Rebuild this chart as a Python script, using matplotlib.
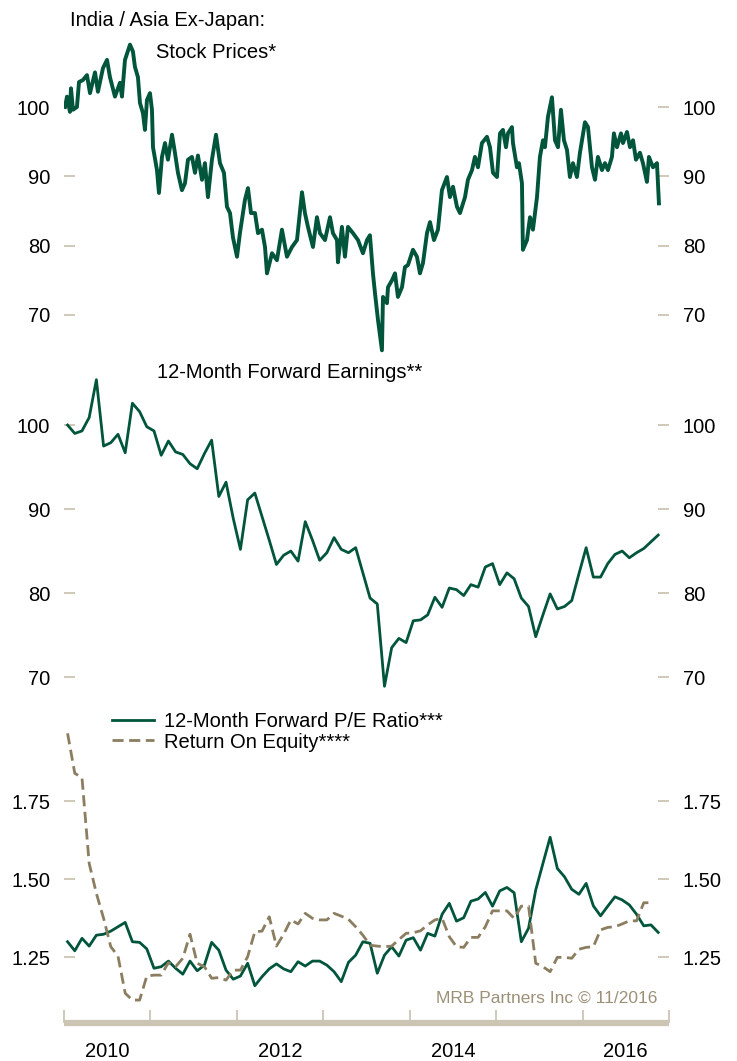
import numpy as np
import matplotlib
matplotlib.use('Agg')
import matplotlib.pyplot as plt

plt.rcParams['font.family'] = ['Liberation Sans', 'DejaVu Sans']

GREEN = '#00553a'
TAN = '#cdc5b3'
ROE_COL = '#8b7d60'
NOTE_COL = '#9c9177'

# Stock prices (indexed, Jan 2010 = 100)
stock_dates = [
    2010.012, 2010.035, 2010.069, 2010.081, 2010.104, 2010.150, 2010.174, 2010.220, 2010.266, 2010.301,
    2010.359, 2010.393, 2010.451, 2010.498, 2010.532, 2010.590, 2010.648, 2010.671, 2010.706, 2010.764,
    2010.798, 2010.821, 2010.856, 2010.879, 2010.914, 2010.937, 2010.960, 2010.995, 2011.018, 2011.030,
    2011.076, 2011.099, 2011.134, 2011.169, 2011.203, 2011.250, 2011.284, 2011.319, 2011.365, 2011.400,
    2011.435, 2011.481, 2011.516, 2011.550, 2011.597, 2011.631, 2011.666, 2011.712, 2011.759, 2011.805,
    2011.851, 2011.886, 2011.921, 2011.955, 2012.002, 2012.036, 2012.094, 2012.129, 2012.164, 2012.210,
    2012.245, 2012.291, 2012.326, 2012.349, 2012.407, 2012.464, 2012.522, 2012.580, 2012.638, 2012.696,
    2012.754, 2012.788, 2012.823, 2012.881, 2012.927, 2012.962, 2013.020, 2013.078, 2013.112, 2013.159,
    2013.170, 2013.216, 2013.251, 2013.286, 2013.344, 2013.402, 2013.459, 2013.506, 2013.540, 2013.575,
    2013.598, 2013.633, 2013.679, 2013.691, 2013.737, 2013.749, 2013.795, 2013.830, 2013.864, 2013.911,
    2013.945, 2013.980, 2014.038, 2014.084, 2014.119, 2014.154, 2014.200, 2014.235, 2014.281, 2014.327,
    2014.373, 2014.431, 2014.466, 2014.501, 2014.547, 2014.582, 2014.640, 2014.674, 2014.721, 2014.755,
    2014.790, 2014.836, 2014.894, 2014.929, 2014.964, 2015.010, 2015.045, 2015.079, 2015.114, 2015.137,
    2015.183, 2015.195, 2015.241, 2015.264, 2015.299, 2015.310, 2015.357, 2015.392, 2015.426, 2015.473,
    2015.507, 2015.542, 2015.565, 2015.600, 2015.646, 2015.681, 2015.716, 2015.750, 2015.785, 2015.820,
    2015.854, 2015.889, 2015.935, 2015.970, 2016.028, 2016.063, 2016.109, 2016.144, 2016.178, 2016.225,
    2016.259, 2016.294, 2016.340, 2016.363, 2016.398, 2016.445, 2016.468, 2016.514, 2016.549, 2016.584,
    2016.618, 2016.664, 2016.699, 2016.745, 2016.768, 2016.815, 2016.861, 2016.884,
]
stock_values = [
    100.0, 101.5, 99.3, 102.7, 99.6, 100.0, 103.6, 103.9, 104.6, 102.0,
    105.0, 102.2, 105.6, 106.8, 104.3, 101.5, 103.5, 101.5, 106.8, 109.0,
    108.0, 105.8, 104.3, 100.6, 99.1, 96.7, 101.0, 102.0, 99.6, 94.2,
    90.9, 87.6, 92.8, 94.8, 92.4, 96.0, 93.4, 90.5, 88.0, 89.0,
    92.4, 92.8, 90.5, 93.0, 89.5, 91.9, 87.0, 92.4, 96.0, 91.9,
    90.5, 85.6, 84.7, 81.2, 78.4, 81.8, 86.6, 88.3, 84.7, 84.7,
    81.8, 82.3, 79.8, 76.0, 78.9, 77.9, 82.3, 78.4, 79.8, 80.8,
    87.7, 84.7, 82.7, 79.8, 84.1, 81.8, 80.8, 84.1, 81.8, 80.8,
    77.6, 82.7, 78.4, 82.7, 81.8, 80.8, 78.9, 80.8, 81.5, 76.0,
    73.2, 69.3, 64.9, 72.6, 71.7, 74.0, 75.0, 76.0, 72.6, 74.0,
    76.9, 77.2, 79.4, 78.4, 76.0, 77.5, 81.8, 83.4, 80.8, 82.3,
    88.0, 89.9, 87.0, 88.5, 85.6, 84.7, 87.0, 89.5, 90.9, 92.8,
    91.3, 94.8, 95.7, 94.2, 90.5, 89.9, 96.2, 96.7, 94.2, 96.2,
    97.1, 94.8, 91.3, 91.9, 89.0, 79.4, 80.8, 84.1, 82.3, 87.0,
    92.8, 95.2, 94.2, 98.6, 101.4, 95.2, 94.2, 99.6, 95.2, 93.8,
    89.9, 91.9, 89.9, 93.4, 97.8, 97.1, 91.3, 89.5, 92.8, 90.9,
    91.9, 90.9, 92.8, 96.2, 94.2, 96.2, 94.8, 96.4, 94.2, 95.2,
    92.4, 93.4, 91.9, 89.2, 92.8, 91.3, 91.9, 86.1,
]

# Monthly series, Jan 2010 - Nov 2016
earnings = [
    100.0, 99.0, 99.3, 100.9, 105.4, 97.5, 97.9, 98.9, 96.7, 102.6,
    101.6, 99.8, 99.3, 96.4, 98.1, 96.8, 96.5, 95.4, 94.8, 96.6,
    98.2, 91.5, 93.2, 88.9, 85.2, 91.1, 91.9, 89.1, 86.3, 83.4,
    84.5, 85.0, 83.8, 88.5, 86.3, 83.9, 84.8, 86.6, 85.2, 84.8,
    85.4, 82.4, 79.4, 78.7, 68.9, 73.5, 74.6, 74.1, 76.7, 76.8,
    77.4, 79.5, 78.3, 80.6, 80.4, 79.7, 81.0, 80.7, 83.1, 83.5,
    81.0, 82.4, 81.7, 79.4, 78.4, 74.8, 77.4, 79.9, 78.1, 78.4,
    79.1, 82.3, 85.4, 81.9, 81.9, 83.5, 84.6, 85.0, 84.2, 84.8,
    85.3, 86.1, 86.9,
]
pe_ratio = [
    1.299, 1.270, 1.310, 1.285, 1.320, 1.323, 1.333, 1.347, 1.361, 1.299,
    1.297, 1.276, 1.214, 1.219, 1.237, 1.214, 1.195, 1.237, 1.206, 1.224,
    1.297, 1.272, 1.208, 1.179, 1.189, 1.230, 1.158, 1.187, 1.212, 1.228,
    1.212, 1.203, 1.235, 1.221, 1.237, 1.237, 1.224, 1.203, 1.171, 1.233,
    1.256, 1.299, 1.294, 1.198, 1.256, 1.283, 1.253, 1.304, 1.312, 1.272,
    1.326, 1.317, 1.387, 1.422, 1.365, 1.376, 1.429, 1.436, 1.457, 1.413,
    1.462, 1.473, 1.456, 1.299, 1.342, 1.465, 1.550, 1.634, 1.534, 1.507,
    1.467, 1.451, 1.486, 1.414, 1.382, 1.413, 1.443, 1.433, 1.417, 1.387,
    1.350, 1.353, 1.329,
]
roe = [
    1.967, 1.839, 1.825, 1.550, 1.454, 1.374, 1.283, 1.253, 1.134, 1.112,
    1.112, 1.189, 1.192, 1.192, 1.232, 1.219, 1.246, 1.323, 1.230, 1.219,
    1.182, 1.184, 1.176, 1.208, 1.208, 1.251, 1.331, 1.333, 1.379, 1.285,
    1.323, 1.369, 1.356, 1.390, 1.374, 1.369, 1.369, 1.390, 1.381, 1.371,
    1.347, 1.320, 1.288, 1.285, 1.283, 1.285, 1.306, 1.326, 1.328, 1.334,
    1.353, 1.369, 1.374, 1.315, 1.283, 1.281, 1.313, 1.313, 1.347, 1.398,
    1.398, 1.398, 1.374, 1.413, 1.413, 1.230, 1.219, 1.203, 1.249, 1.249,
    1.246, 1.275, 1.281, 1.283, 1.337, 1.345, 1.347, 1.356, 1.366, 1.366,
    1.424, 1.424,
]

year_ticks = [2010, 2011, 2012, 2013, 2014, 2015, 2016, 2017]
year_labels = ['2010', '2012', '2014', '2016']
price_ticks = [70, 80, 90, 100]
ratio_ticks = [1.25, 1.50, 1.75]

month_dates = 2010 + (np.arange(len(earnings)) + 0.5) / 12
roe_dates = month_dates[:len(roe)]

fig = plt.figure(figsize=(7.37, 10.61), dpi=100)

ax1 = fig.add_axes([0.0868, 0.6607, 0.8209, 0.3299])
ax2 = fig.add_axes([0.0868, 0.3402, 0.8209, 0.3157])
ax3 = fig.add_axes([0.0868, 0.0358, 0.8209, 0.2997])


def style_axis(ax, ticks, fmt):
    for s in ax.spines.values():
        s.set_visible(False)
    ax.set_xlim(2010, 2017)
    ax.set_xticks([])
    ax.set_yticks(ticks)
    ax.set_yticklabels([fmt.format(t) for t in ticks])
    ax.tick_params(axis='y', left=True, right=True, labelleft=True, labelright=True,
                   direction='in', length=8, width=1.3, color=TAN, pad=10,
                   labelsize=14.5, labelcolor='black')
    ax.patch.set_alpha(0)


ax1.plot(stock_dates, stock_values, color=GREEN, lw=2.8, solid_joinstyle='round')
style_axis(ax1, price_ticks, '{:d}')
ax1.set_ylim(63.5, 114.0)

ax2.plot(month_dates, earnings, color=GREEN, lw=2.0)
style_axis(ax2, price_ticks, '{:d}')
ax2.set_ylim(67.26, 107.14)

ax3.plot(month_dates, pe_ratio, color=GREEN, lw=2.0, label='12-Month Forward P/E Ratio***')
ax3.plot(roe_dates, roe, color=ROE_COL, lw=2.0, ls=(0, (4, 2)), label='Return On Equity****')
style_axis(ax3, ratio_ticks, '{:.2f}')
ax3.set_ylim(1.0385, 2.0577)

# bottom date axis
ax3.spines['bottom'].set_visible(True)
ax3.spines['bottom'].set_color(TAN)
ax3.spines['bottom'].set_linewidth(4.5)
ax3.spines['bottom'].set_capstyle('butt')
ax3.set_xticks(year_ticks)
ax3.set_xticklabels([])
ax3.set_xticks([y + 0.5 for y in [2010, 2012, 2014, 2016]], year_labels, minor=True)
ax3.tick_params(axis='x', which='major', direction='in', length=9.5, width=1.3, color=TAN)
ax3.tick_params(axis='x', which='minor', length=0, pad=14, labelsize=14.5)

leg = ax3.legend(loc='upper left', bbox_to_anchor=(0.152, 0.3290), bbox_transform=fig.transFigure,
                 frameon=False, fontsize=14.5, handlelength=2.1, handletextpad=0.5,
                 labelspacing=0.08, borderpad=0, borderaxespad=0)

fig.text(70 / 737, 1 - 20 / 1061, 'India / Asia Ex-Japan:', fontsize=14.5, va='center', ha='left')
fig.text(156 / 737, 1 - 52 / 1061, 'Stock Prices*', fontsize=14.5, va='center', ha='left')
fig.text(157 / 737, 1 - 373 / 1061, '12-Month Forward Earnings**', fontsize=14.5, va='center', ha='left')
fig.text(657 / 737, 1 - 998 / 1061, 'MRB Partners Inc \u00a9 11/2016', fontsize=12.5, va='center',
         ha='right', color=NOTE_COL)

fig.savefig('out.png', dpi=100)
